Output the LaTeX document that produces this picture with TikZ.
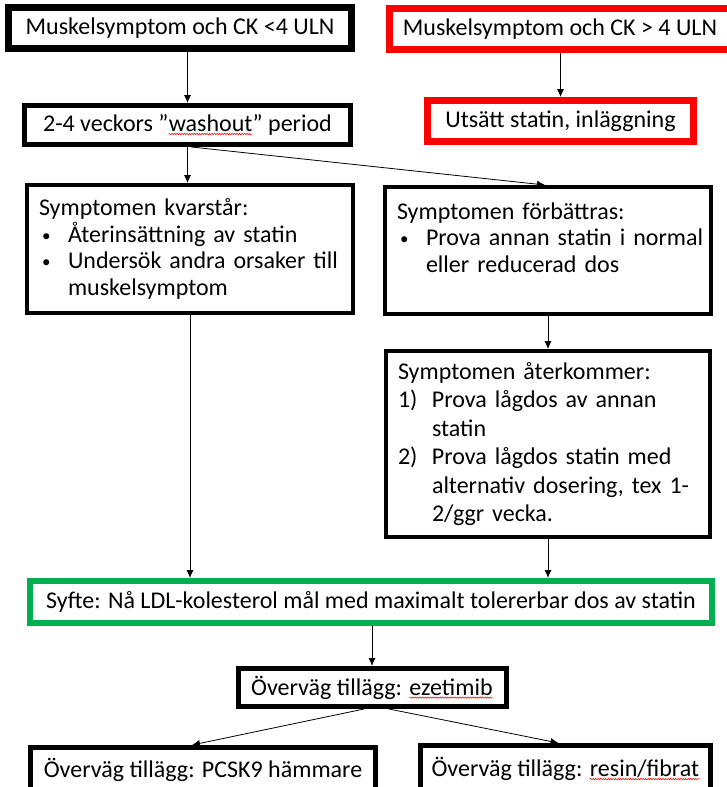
\documentclass[tikz,border=0pt]{standalone}
\usepackage{fontspec}
\setmainfont{Carlito}
\usetikzlibrary{arrows.meta,positioning,decorations.pathmorphing}
\definecolor{roed}{RGB}{255,0,0}
\definecolor{groen}{RGB}{0,176,80}
\newcommand{\punkt}[3][29pt]{\par\hangindent=#1\hangafter=1\noindent\makebox[#1][l]{#2}#3\par}
\newcommand{\prick}{\hspace{3pt}{\fontsize{17}{17}\selectfont\raisebox{1pt}{\textbullet}}}
\newcommand{\stavfel}[1]{\tikz[baseline=(ord.base)]{\node[inner sep=0pt, outer sep=0pt, minimum size=0pt, draw=none, anchor=base] (ord) at (0,0) {#1};
  \draw[roed, line width=0.5pt, decorate, decoration={snake, amplitude=0.7pt, segment length=2.5pt}]
  ([yshift=-2.5pt]ord.base west) -- ([yshift=-2.5pt]ord.base east);}}
\begin{document}
\begin{tikzpicture}[x=1pt,y=-1pt,
  font=\fontsize{24}{26.5}\selectfont,
  ruta/.style={draw, rectangle, inner sep=0pt, align=center},
  lista/.style={draw, rectangle, inner xsep=12pt, inner ysep=0pt, text width=#1,
    execute at begin node={\raggedright\setlength{\parindent}{0pt}}},
  pil/.style={-{Latex[length=8pt,width=7pt]}, line width=0.8pt}]
  \useasboundingbox (0,0) rectangle (727,787);
  \clip (0,0) rectangle (727,787);

  %rutor
  \node[ruta, line width=7pt, minimum width=343pt, minimum height=41pt] (ck1) at (180,28) {Muskelsymptom och CK <4 ULN};
  \node[ruta, draw=roed, line width=7pt, minimum width=360pt, minimum height=41pt] (ck2) at (569.5,29) {\hspace*{-19pt}Muskelsymptom och CK > 4 ULN};
  \node[ruta, line width=5pt, minimum width=326pt, minimum height=39pt] (washout) at (187.5,125) {2-4 veckors ”\stavfel{washout}” period};
  \node[ruta, draw=roed, line width=7pt, minimum width=266pt, minimum height=41pt] (utsatt) at (560.5,121) {Utsätt statin, inläggning};

  \node[lista=302pt, line width=4pt, minimum height=128pt] (kvar) at (190,249) {Symptomen kvarstår:\par
    \punkt{\prick}{Återinsättning av statin}
    \punkt{\prick}{\mbox{Undersök andra orsaker till}\newline muskelsymptom}};
  \node[lista=302pt, line width=4pt, minimum height=127pt] (battre) at (548,250.5) {Symptomen förbättras:\par
    \punkt{\prick}{\mbox{Prova annan statin i normal}\newline eller reducerad dos}
    \mbox{}};
  \node[lista=300pt, line width=4pt, minimum height=186pt, font=\fontsize{24}{28.5}\selectfont, below=33pt of battre] (ater) {Symptomen återkommer:\par
    \punkt[34pt]{1)}{Prova lågdos av annan\newline statin}
    \punkt[34pt]{2)}{Prova lågdos statin med\newline alternativ dosering, tex 1-\newline 2/ggr vecka.}};

  \node[ruta, draw=groen, line width=6pt, minimum width=682pt, minimum height=42pt] (syfte) at (371,602) {Syfte: Nå LDL-kolesterol mål med maximalt tolererbar dos av statin};
  \node[ruta, line width=5pt, minimum width=268pt, minimum height=38pt] (ezet) at (372,687.5) {Överväg tillägg: \stavfel{ezetimib}};
  \node[ruta, line width=5pt, minimum width=345pt, minimum height=45pt] (pcsk) at (203,770) {Överväg tillägg: PCSK9 hämmare};
  \node[ruta, line width=5pt, minimum width=290pt, minimum height=47pt] (resin) at (565.5,769) {Överväg tillägg: \stavfel{resin/fibrat}};

  %pilar
  \draw[pil] (ck1.south -| washout.north) -- (washout.north);
  \draw[pil] (ck2.south -| utsatt.north) -- (utsatt.north);
  \draw[pil] (washout.south) -- (washout.south |- kvar.north);
  \draw[pil] ([xshift=4pt]washout.south) -- ([xshift=-3pt]battre.north);
  \draw[pil] (kvar.south) -- (kvar.south |- syfte.north);
  \draw[pil] (battre.south) -- (battre.south |- ater.north);
  \draw[pil] (ater.south) -- (ater.south |- syfte.north);
  \draw[pil] (syfte.south -| ezet.north) -- (ezet.north);
  \draw[pil] ([xshift=-8pt]ezet.south) -- ([xshift=-11pt]pcsk.north);
  \draw[pil] ([xshift=17pt]ezet.south) -- ([xshift=-7pt]resin.north);
\end{tikzpicture}
\end{document}
